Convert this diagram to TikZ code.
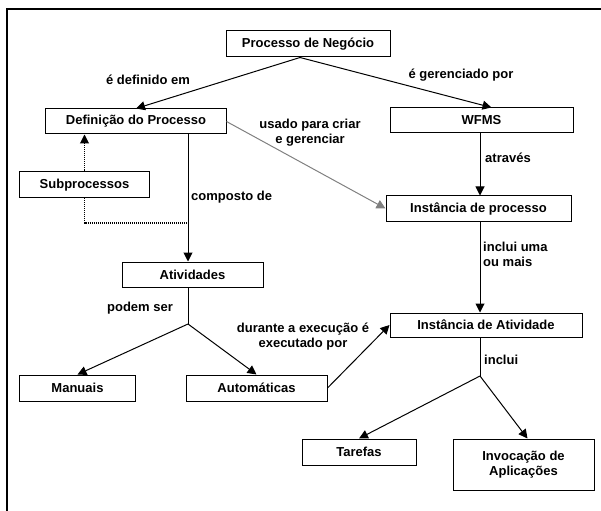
\documentclass[tikz,border=0pt]{standalone}
\usepackage{fontspec}
\setmainfont{Liberation Sans}
\usetikzlibrary{arrows.meta}

\tikzset{
  caixa/.style={draw, line width=1bp, inner sep=0pt, font=\bfseries\fontsize{13bp}{15bp}\selectfont, align=center},
  rotulo/.style={font=\bfseries\fontsize{13bp}{15bp}\selectfont, inner sep=0pt},
  seta/.style={line width=1bp, -{Triangle[length=9bp,width=9bp]}},
  linha/.style={line width=1bp}
}

\begin{document}
\begin{tikzpicture}[x=1bp,y=-1bp]
    \useasboundingbox (0,0) rectangle (601,511);
    \draw[line width=1.5bp] (7,511) -- (7,9) -- (601,9);

      % caixas
      \node[caixa, minimum width=164bp, minimum height=26bp] (proc) at (308,44) {Processo de Negócio};
      \node[caixa, minimum width=180bp, minimum height=25bp] (def) at (136,121.5) {Definição do Processo};
      \node[caixa, minimum width=183bp, minimum height=25bp] (wfms) at (481.5,120.5) {WFMS};
      \node[caixa, minimum width=129bp, minimum height=26bp] (sub) at (84.5,185) {Subprocessos};
      \node[caixa, minimum width=185bp, minimum height=25bp] (instp) at (478.5,208.5) {Instância de processo};
      \node[caixa, minimum width=141bp, minimum height=25bp] (ativ) at (192.5,274.5) {Atividades};
      \node[caixa, minimum width=115bp, minimum height=26bp] (man) at (77.5,388) {Manuais};
      \node[caixa, minimum width=141bp, minimum height=26bp] (auto) at (256.5,388) {Automáticas};
      \node[caixa, minimum width=192bp, minimum height=24bp] (insta) at (486,325) {Instância de Atividade};
      \node[caixa, minimum width=114bp, minimum height=26bp] (tar) at (359,452) {Tarefas};
      \node[caixa, minimum width=141bp, minimum height=51bp] (invoc) at (523.5,464.5) {Invocação de\\Aplicações};

      % pontos de junção
      \coordinate (jcomp) at (188,223);
      \coordinate (jpod) at (188,324);
      \coordinate (jinc) at (480,376);

      % ligações
      \draw[seta] ([xshift=-8bp]proc.south) -- (def.north);
      \draw[seta] ([xshift=-8bp]proc.south) -- ([xshift=10bp]wfms.north);
      \draw[seta, gray] (def.east) -- (instp.west);
      \draw[seta] (wfms.south -| jinc) -- (instp.north -| jinc);
      \draw[seta] (def.south -| jcomp) -- (ativ.north -| jcomp);
      \draw[seta, densely dotted] (sub.north) -- (sub.north |- def.south);
      \draw[linha, densely dotted] (sub.south) |- (jcomp);
      \draw[linha] (ativ.south -| jpod) -- (jpod);
      \draw[seta] (jpod) -- (man.north);
      \draw[seta] (jpod) -- (auto.north);
      \draw[seta] (auto.east) -- (insta.west);
      \draw[seta] (instp.south -| jinc) -- (insta.north -| jinc);
      \draw[linha] (insta.south -| jinc) -- (jinc);
      \draw[seta] (jinc) -- (tar.north);
      \draw[seta] (jinc) -- ([xshift=4bp]invoc.north);

      % rótulos
      \node[rotulo] (ldef) at (148,80) {é definido em};
      \node[rotulo] (lger) at (461,75) {é gerenciado por};
      \node[rotulo, align=center] (lusa) at (310,133) {usado para criar\\e gerenciar};
      \node[rotulo, anchor=west] (latr) at (485,158) {através};
      \node[rotulo, anchor=west] (lcomp) at (191,197) {composto de};
      \node[rotulo, anchor=west, align=left] (luma) at (483,254) {inclui uma\\ou mais};
      \node[rotulo] (lpod) at (140,308) {podem ser};
      \node[rotulo, align=center] (ldur) at (303,337) {durante a execução é\\executado por};
      \node[rotulo, anchor=west] (linc) at (484,360) {inclui};
  \end{tikzpicture}
\end{document}
